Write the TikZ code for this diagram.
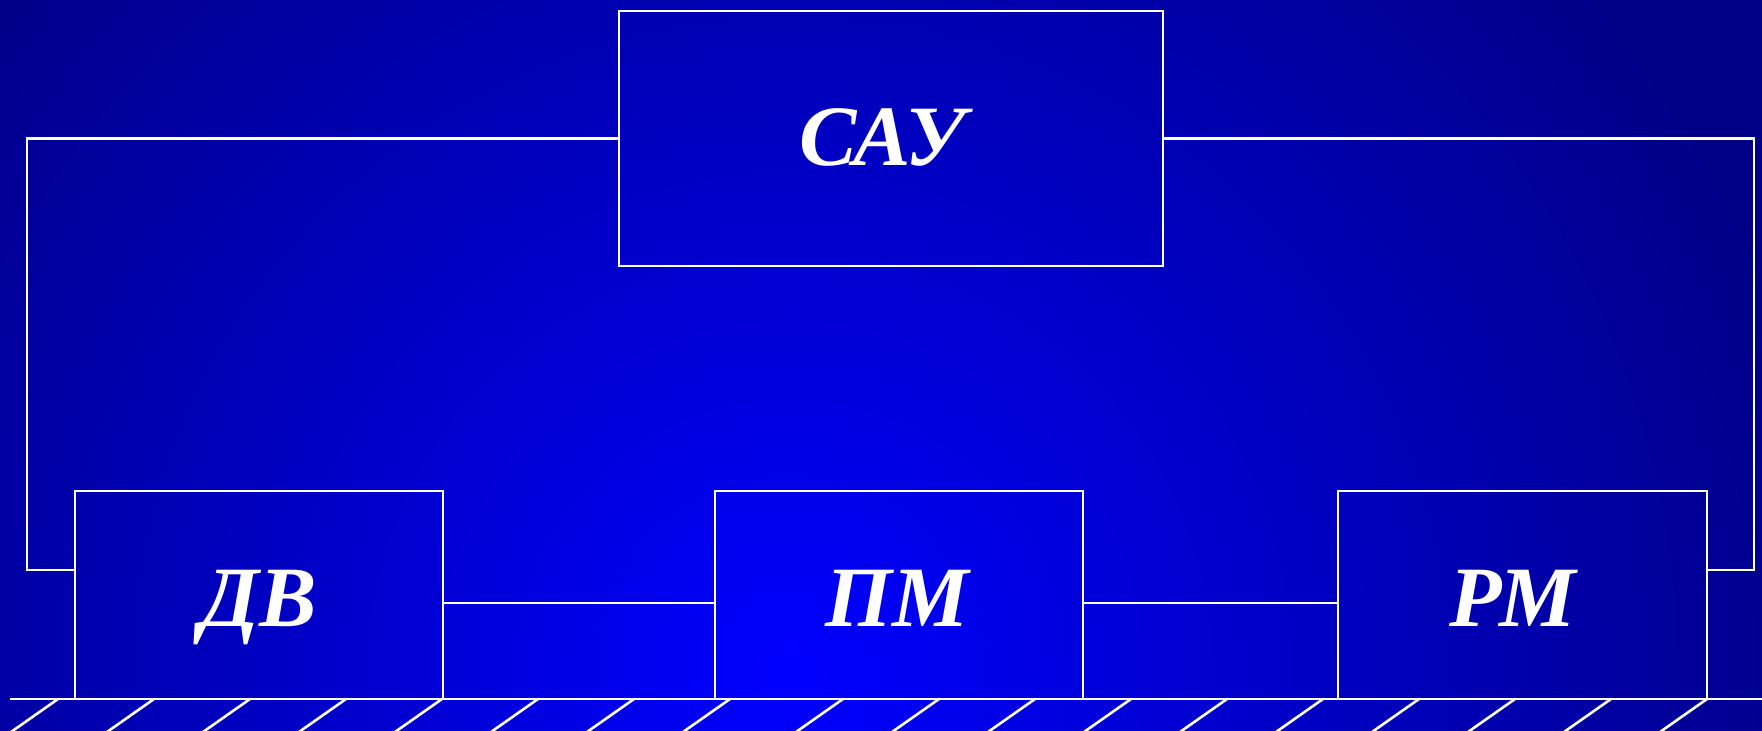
\documentclass[tikz,border=0pt]{standalone}
\usepackage{fontspec}
\setmainfont{Liberation Serif}
\definecolor{bgdark}{RGB}{0,0,135}
\definecolor{bglight}{RGB}{0,0,255}
\tikzset{
  wire/.style={draw=white, line width=2.6pt},
  blockbox/.style={draw=white, line width=2.6pt, rectangle, inner sep=0pt,
    text=white, font=\fontsize{86}{92}\selectfont\bfseries\itshape,
    text height=56pt, text depth=0pt},
}
\begin{document}
\begin{tikzpicture}[x=1pt,y=-1pt]
  % background
  \fill[bgdark] (0,0) rectangle (1762,731);
  \begin{scope}
    \clip (0,0) rectangle (1762,731);
    \shade[inner color=bglight, outer color=bgdark] (790,675) circle (1050);
  \end{scope}
  \useasboundingbox (0,0) rectangle (1762,731);

  % blocks
  \node[blockbox, minimum width=544pt, minimum height=255pt] (sau) at (891,138.5) {};
  \node[blockbox, minimum width=368pt, minimum height=208pt] (dv) at (259,595) {};
  \node[blockbox, minimum width=368pt, minimum height=208pt] (pm) at (899,595) {};
  \node[blockbox, minimum width=369pt, minimum height=208pt] (rm) at (1522.5,595) {};
  \node[blockbox, draw=none] (sautxt) at ([xshift=-9pt,yshift=1pt]sau.center) {САУ};
  \node[blockbox, draw=none] (dvtxt) at ([xshift=0pt,yshift=-3pt]dv.center) {ДВ};
  \node[blockbox, draw=none] (pmtxt) at ([xshift=-2pt,yshift=-3pt]pm.center) {ПМ};
  \node[blockbox, draw=none] (rmtxt) at ([xshift=-10pt,yshift=-3pt]rm.center) {РМ};

  % feedback loops
  \coordinate (lc) at (27,570);
  \coordinate (rc) at (1754,570);
  \draw[wire] (sau.west) -| (lc) -- (lc -| dv.west);
  \draw[wire] (sau.east) -| (rc) -- (rc -| rm.east);

  % shaft connections
  \draw[wire] ([yshift=-8pt]dv.east) -- ([yshift=-8pt]pm.west);
  \draw[wire] ([yshift=-8pt]pm.east) -- ([yshift=-8pt]rm.west);

  % ground
  \coordinate (g0) at (10,699);
  \coordinate (g1) at (1762,699);
  \draw[wire] (g0) -- (g1);
  \foreach \k in {0,...,7} {
    \draw[wire] ({58+96*\k},699) -- ({11+96*\k},732);
  }
  \foreach \k in {0,...,9} {
    \draw[wire] ({843+96*\k},699) -- ({796+96*\k},732);
  }
\end{tikzpicture}
\end{document}
